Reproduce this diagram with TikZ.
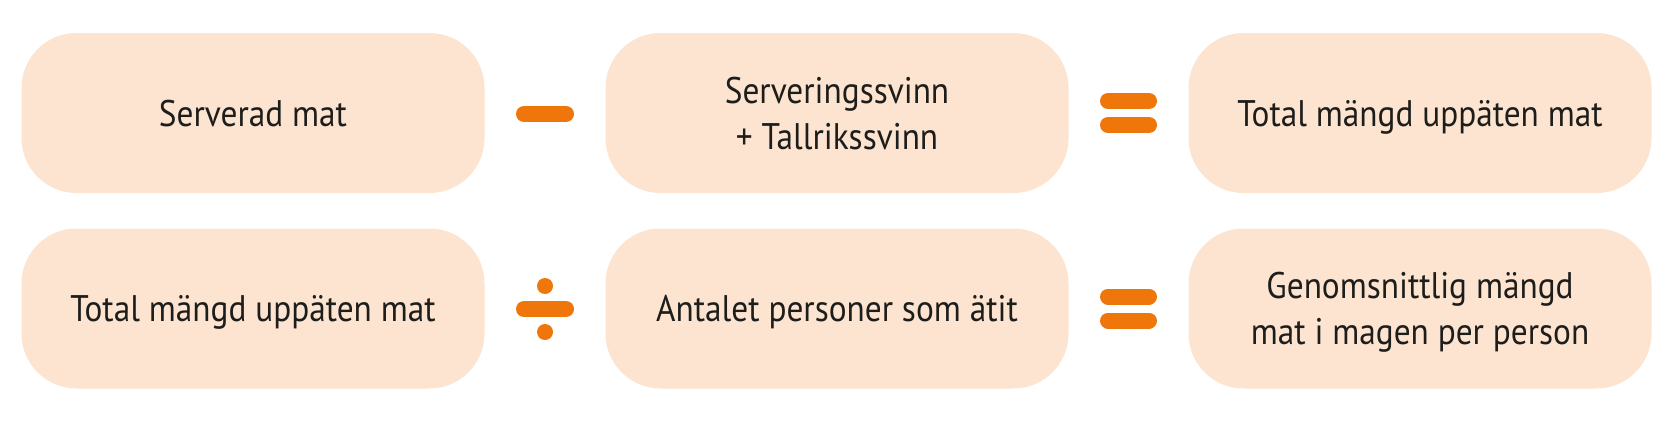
\documentclass[tikz,border=0pt]{standalone}
\usepackage{fontspec}
\setmainfont{PT Sans}[FakeStretch=0.9]
\usetikzlibrary{calc}
\definecolor{boxfill}{RGB}{252,228,208}
\definecolor{opcol}{RGB}{238,118,10}
\definecolor{txt}{RGB}{29,29,27}
\begin{document}
\begin{tikzpicture}[x=1pt,y=-1pt,
  eqbox/.style={rectangle, rounded corners=55pt, fill=boxfill, draw=none,
    minimum width=463pt, minimum height=160pt, inner sep=0pt,
    align=center, text=txt, text depth=0pt,
    font=\fontsize{37}{46}\selectfont},
  opline/.style={draw=opcol, line width=16pt, line cap=round},
  opdot/.style={fill=opcol, draw=none}]
\useasboundingbox (0,0) rectangle (1675,421);
% row 1
\node[eqbox] (a1) at (253,113) {Serverad mat};
\node[eqbox] (a2) at (837,113) {Serveringssvinn\\+ Tallrikssvinn};
\node[eqbox] (a3) at (1420,113) {Total mängd uppäten mat};
% row 2
\node[eqbox] (b1) at (253,308.5) {Total mängd uppäten mat};
\node[eqbox] (b2) at (837,308.5) {Antalet personer som ätit};
\node[eqbox] (b3) at (1420,308.5) {Genomsnittlig mängd\\mat i magen per person};
% operators
\coordinate (m1) at ($(a1.east)!0.5!(a2.west)$);
\coordinate (e1) at ($(a2.east)!0.5!(a3.west)$);
\coordinate (d2) at ($(b1.east)!0.5!(b2.west)$);
\coordinate (e2) at ($(b2.east)!0.5!(b3.west)$);
% minus
\draw[opline] ($(m1)+(-21,1)$) -- ($(m1)+(21,1)$);
% equals row 1
\draw[opline] ($(e1)+(-20.5,-12)$) -- ($(e1)+(20.5,-12)$);
\draw[opline] ($(e1)+(-20.5,12)$) -- ($(e1)+(20.5,12)$);
% divide
\draw[opline] ($(d2)+(-21,0.5)$) -- ($(d2)+(21,0.5)$);
\fill[opdot] ($(d2)+(0,-22.5)$) circle (8);
\fill[opdot] ($(d2)+(0,23.5)$) circle (8);
% equals row 2
\draw[opline] ($(e2)+(-20.5,-12)$) -- ($(e2)+(20.5,-12)$);
\draw[opline] ($(e2)+(-20.5,12)$) -- ($(e2)+(20.5,12)$);
\end{tikzpicture}
\end{document}
